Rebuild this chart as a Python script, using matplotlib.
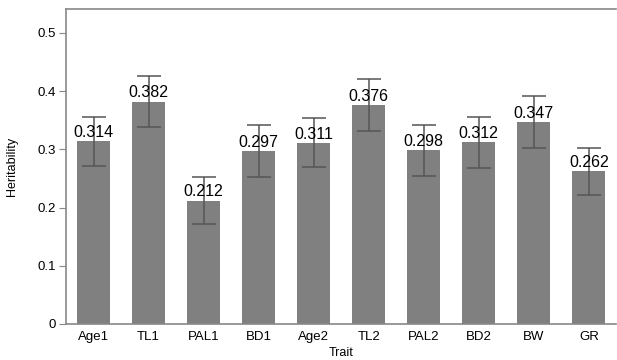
import numpy as np
import matplotlib.pyplot as plt
from matplotlib.ticker import FuncFormatter

plt.rcParams['font.family'] = ['Liberation Sans', 'DejaVu Sans']

traits = ["Age1", "TL1", "PAL1", "BD1", "Age2", "TL2", "PAL2", "BD2", "BW", "GR"]
h2 = [0.314, 0.382, 0.212, 0.297, 0.311, 0.376, 0.298, 0.312, 0.347, 0.262]
se = [0.042, 0.044, 0.040, 0.044, 0.042, 0.044, 0.043, 0.044, 0.044, 0.041]

fig = plt.figure(figsize=(6.17, 3.6), dpi=100)
ax = fig.add_axes([0.107, 0.1, 0.892, 0.875])

x = np.arange(len(traits))
ax.bar(x, h2, width=0.6, color="#808080", zorder=2)
ax.errorbar(x, h2, yerr=se, fmt="none", ecolor="#555555", elinewidth=1.1,
            capsize=8.5, capthick=1.1, zorder=3)

for xi, v in zip(x, h2):
    ax.text(xi, v + 0.002, f"{v:.3f}", ha="center", va="bottom",
            fontsize=11.5, color="black", zorder=4)

ax.set_xlim(-0.5, len(traits) - 0.5)
ax.set_ylim(0, 0.541)
ax.set_yticks([0, 0.1, 0.2, 0.3, 0.4, 0.5])
ax.yaxis.set_major_formatter(FuncFormatter(lambda v, p: "0" if v == 0 else f"{v:.1f}"))
ax.set_xticks(x)
ax.set_xticklabels(traits)

ax.tick_params(axis="y", length=5, color="#888888", labelsize=9.5, pad=2)
ax.tick_params(axis="x", length=0, labelsize=9.5, pad=5)

for s in ax.spines.values():
    s.set_color("#888888")
    s.set_linewidth(1.2)
ax.spines["right"].set_visible(False)

ax.set_xlabel("Trait", fontsize=9, labelpad=3)
ax.set_ylabel("Heritability", fontsize=9, labelpad=14)

fig.savefig("out.png", dpi=100)
